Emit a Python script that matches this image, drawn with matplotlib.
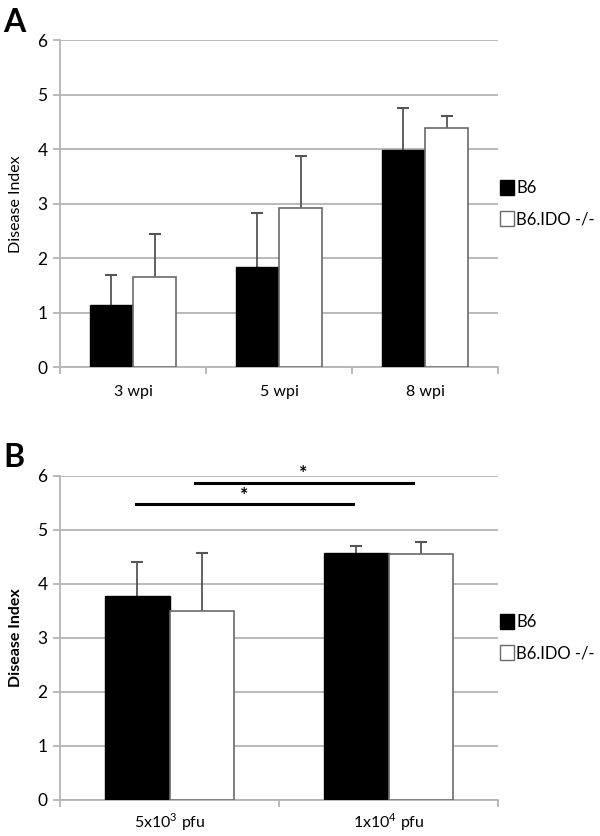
import numpy as np
import matplotlib
matplotlib.use("Agg")
import matplotlib.pyplot as plt
from matplotlib.patches import Patch

plt.rcParams['font.family'] = ['Lato', 'DejaVu Sans']
plt.rcParams['mathtext.fontset'] = 'custom'
plt.rcParams['mathtext.rm'] = 'Lato'

# Panel A data
a_labels = ['3 wpi', '5 wpi', '8 wpi']
a_b6 = [1.14, 1.84, 3.98]
a_b6_err = [0.56, 0.99, 0.77]
a_ido = [1.66, 2.92, 4.38]
a_ido_err = [0.78, 0.95, 0.23]

# Panel B data
b_labels = [r'5x10$^\mathrm{3}$ pfu', r'1x10$^\mathrm{4}$ pfu']
b_b6 = [3.77, 4.56]
b_b6_err = [0.63, 0.13]
b_ido = [3.50, 4.55]
b_ido_err = [1.07, 0.23]

series_names = ['B6', 'B6.IDO -/-']
grid_col = '#b4b4b4'
err_col = '#555555'


def draw_panel(ax, labels, b6, b6_err, ido, ido_err, ylabel_bold, xpad):
    n = len(labels)
    x = np.arange(n)
    w = 0.295
    ax.bar(x - w / 2, b6, w, color='black', edgecolor='black', linewidth=1, zorder=3)
    ax.bar(x + w / 2, ido, w, color='white', edgecolor='#6a6a6a', linewidth=1.2, zorder=3)
    for xs, vals, errs in [(x - w / 2, b6, b6_err), (x + w / 2, ido, ido_err)]:
        tops = np.array(vals) + np.array(errs)
        ax.vlines(xs, vals, tops, color=err_col, linewidth=1.3, zorder=2)
        ax.plot(xs, tops, linestyle='none', marker='_', markersize=8,
                markeredgewidth=1.5, color=err_col, zorder=2)

    ax.set_xlim(-0.5, n - 0.5)
    ax.set_ylim(0, 6)
    ax.set_yticks(range(0, 7))
    ax.yaxis.grid(True, color=grid_col, linewidth=1.3, zorder=0)
    ax.set_axisbelow(True)
    for s in ['top', 'right']:
        ax.spines[s].set_visible(False)
    ax.spines['left'].set_color(grid_col)
    ax.spines['bottom'].set_color(grid_col)
    ax.spines['left'].set_linewidth(1.3)
    ax.spines['bottom'].set_linewidth(1.3)
    ax.tick_params(axis='y', colors=grid_col, labelcolor='black', labelsize=12.5,
                   length=5, width=1.3, pad=4)
    # category boundary ticks
    ax.set_xticks(np.arange(-0.5, n, 1.0))
    ax.set_xticklabels([])
    ax.tick_params(axis='x', colors=grid_col, length=5, width=1.3)
    ax.set_xticks(x, minor=True)
    ax.set_xticklabels(labels, minor=True)
    ax.tick_params(axis='x', which='minor', length=0, labelsize=11.5,
                   labelcolor='black', pad=xpad)
    ax.set_ylabel('Disease Index', fontsize=11.5,
                  fontweight='bold' if ylabel_bold else 'normal', labelpad=10)

    handles = [Patch(facecolor='black', edgecolor='black'),
               Patch(facecolor='white', edgecolor='#6a6a6a')]
    ax.legend(handles, series_names, loc='center left', bbox_to_anchor=(0.99, 0.5),
              frameon=False, fontsize=12, handlelength=0.8, handleheight=1.0,
              handletextpad=0.15, labelspacing=0.9, borderaxespad=0)


fig = plt.figure(figsize=(6, 8.36), dpi=100)
ax_a = fig.add_axes([0.1, 0.5606, 0.73, 0.3915])
ax_b = fig.add_axes([0.1, 0.0431, 0.73, 0.388])

draw_panel(ax_a, a_labels, a_b6, a_b6_err, a_ido, a_ido_err, False, 13)
draw_panel(ax_b, b_labels, b_b6, b_b6_err, b_ido, b_ido_err, True, 8)

# significance lines in panel B
ax_b.plot([-0.153, 0.838], [5.47, 5.47], color='black', linewidth=2.2, zorder=4)
ax_b.plot([0.116, 1.112], [5.87, 5.87], color='black', linewidth=2.2, zorder=4)
ax_b.text(0.34, 5.63, '*', ha='center', va='center', fontsize=14, fontweight='bold')
ax_b.text(0.61, 6.03, '*', ha='center', va='center', fontsize=14, fontweight='bold',
          clip_on=False)

fig.text(0.005, 0.99, 'A', fontsize=23, fontweight='bold', va='top', ha='left')
fig.text(0.005, 0.47, 'B', fontsize=23, fontweight='bold', va='top', ha='left')

fig.savefig('out.png', dpi=100)
